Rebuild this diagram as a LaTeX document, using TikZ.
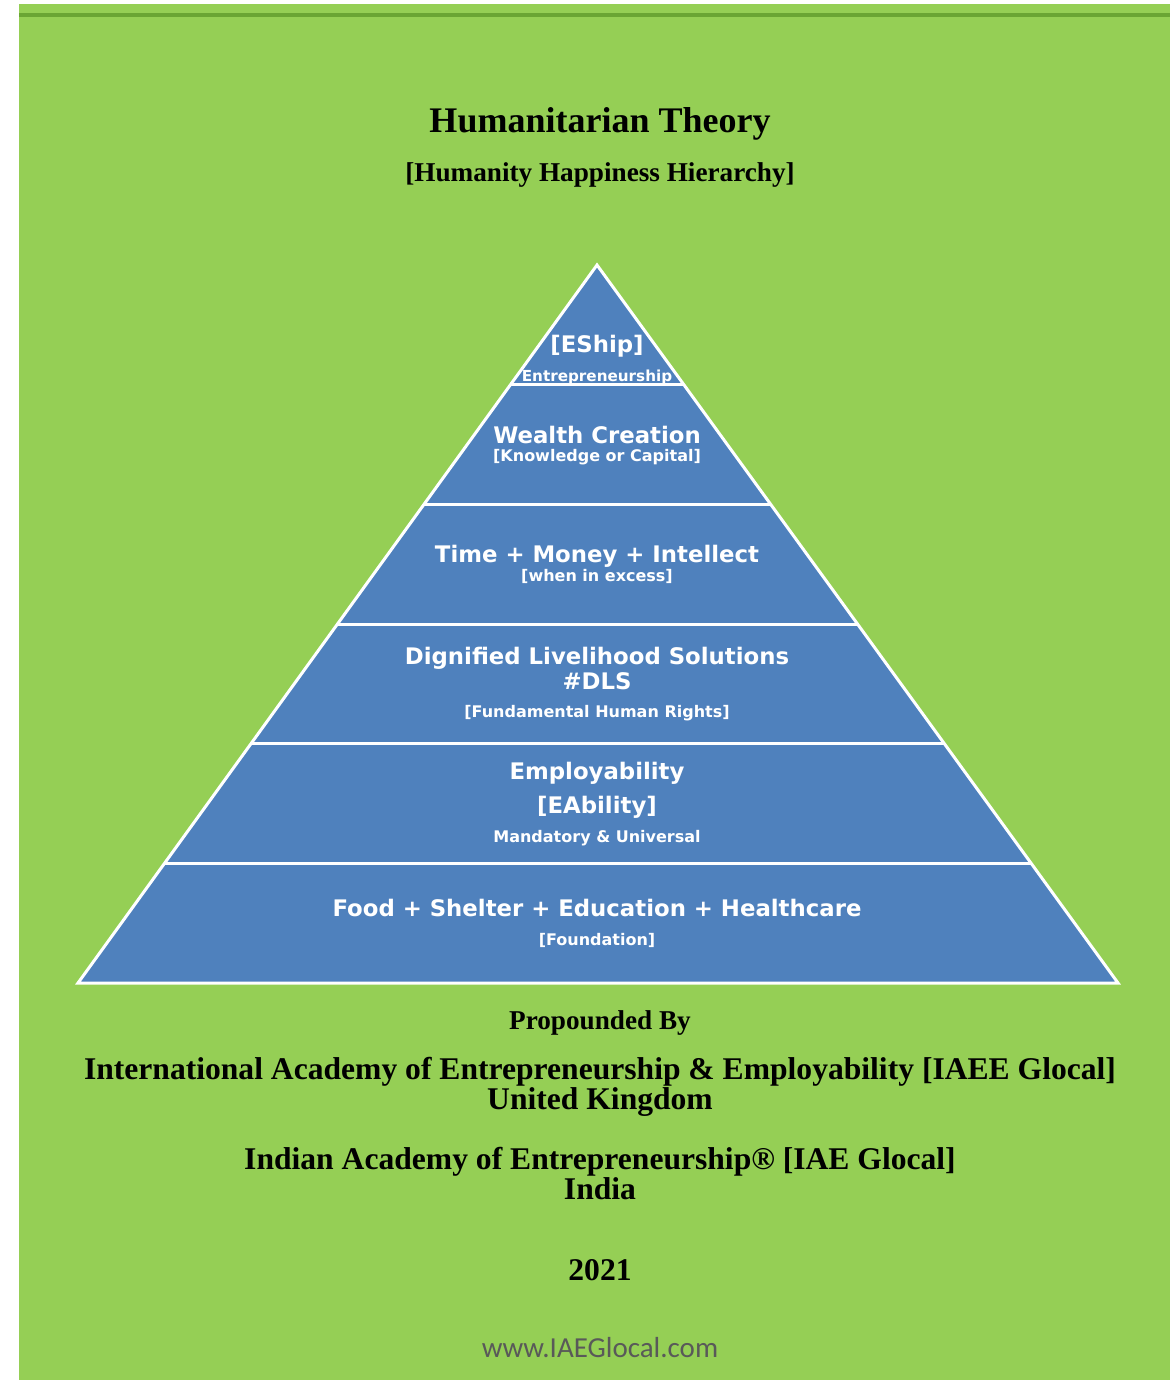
\documentclass[tikz,border=0pt]{standalone}
\usepackage{fontspec}
\setmainfont{Liberation Serif}
\newfontfamily\pyrfont{DejaVu Sans}
\newfontfamily\webfont{Carlito}
\usetikzlibrary{calc}
\definecolor{pagegreen}{RGB}{149,207,85}
\definecolor{rulegreen}{RGB}{106,165,52}
\definecolor{pyrblue}{RGB}{79,129,189}
\definecolor{webgray}{RGB}{89,89,89}

\begin{document}
\begin{tikzpicture}[x=0.5pt, y=-0.5pt,
  every node/.style = {inner sep=0pt, anchor=base},
  heading/.style = {font=\bfseries\fontsize{18}{20}\selectfont},
  subheading/.style = {font=\bfseries\fontsize{13.6}{16}\selectfont},
  credit/.style = {font=\bfseries\fontsize{15.8}{18}\selectfont},
  pyrmain/.style = {text=white, font=\pyrfont\bfseries\fontsize{11.4}{13}\selectfont},
  pyrsub/.style = {text=white, font=\pyrfont\bfseries\fontsize{8}{10}\selectfont}]
  \useasboundingbox (0,0) rectangle (1170,1380);
  \fill[pagegreen] (19,4) rectangle (1170,1380);
  \coordinate (ruleL) at (19,15);
  \coordinate (ruleR) at (1170,15);
  \draw[rulegreen, line width=2pt] (ruleL) -- (ruleR);

  \node[heading] (title) at (600,133) {Humanitarian Theory};
  \node[subheading] (subtitle) at (600,182) {[Humanity Happiness Hierarchy]};

  \coordinate (apex) at (597,265);
  \coordinate (baseL) at (78,983);
  \coordinate (baseR) at (1118,983);
  \filldraw[fill=pyrblue, draw=white, line width=1.5pt] (apex) -- (baseL) -- (baseR) -- cycle;
  \foreach \k in {1,...,5}
    \draw[white, line width=1.5pt] ($(apex)!\k/6!(baseL)$) -- ($(apex)!\k/6!(baseR)$);

  \node[pyrmain] (eship) at (597,352) {[EShip]};
  \node[pyrsub, font=\pyrfont\bfseries\fontsize{7.6}{9}\selectfont] (entre) at (597,381) {Entrepreneurship};
  \node[pyrmain] (wealth) at (597,443) {Wealth Creation};
  \node[pyrsub] (capital) at (597,461) {[Knowledge or Capital]};
  \node[pyrmain] (time) at (597,562) {Time + Money + Intellect};
  \node[pyrsub] (excess) at (597,581) {[when in excess]};
  \node[pyrmain] (dls) at (597,664) {Dignified Livelihood Solutions};
  \node[pyrmain] (dlstag) at (597,689) {\#DLS};
  \node[pyrsub] (rights) at (597,717) {[Fundamental Human Rights]};
  \node[pyrmain] (employ) at (597,779) {Employability};
  \node[pyrmain] (eability) at (597,813) {[EAbility]};
  \node[pyrsub] (mandatory) at (597,842) {Mandatory \& Universal};
  \node[pyrmain] (food) at (597,916) {Food + Shelter + Education + Healthcare};
  \node[pyrsub] (foundation) at (597,945) {[Foundation]};

  \node[subheading] (propounded) at (600,1029) {Propounded By};
  \node[credit] (iaee) at (600,1079) {International Academy of Entrepreneurship \& Employability [IAEE Glocal]};
  \node[credit] (uk) at (600,1109) {United Kingdom};
  \node[credit] (iae) at (600,1169) {Indian Academy of Entrepreneurship® [IAE Glocal]};
  \node[credit] (india) at (600,1199) {India};
  \node[credit] (year) at (600,1280) {2021};
  \node[text=webgray, font=\webfont\fontsize{14.5}{17}\selectfont] (web) at (600,1357) {www.IAEGlocal.com};
\end{tikzpicture}
\end{document}
